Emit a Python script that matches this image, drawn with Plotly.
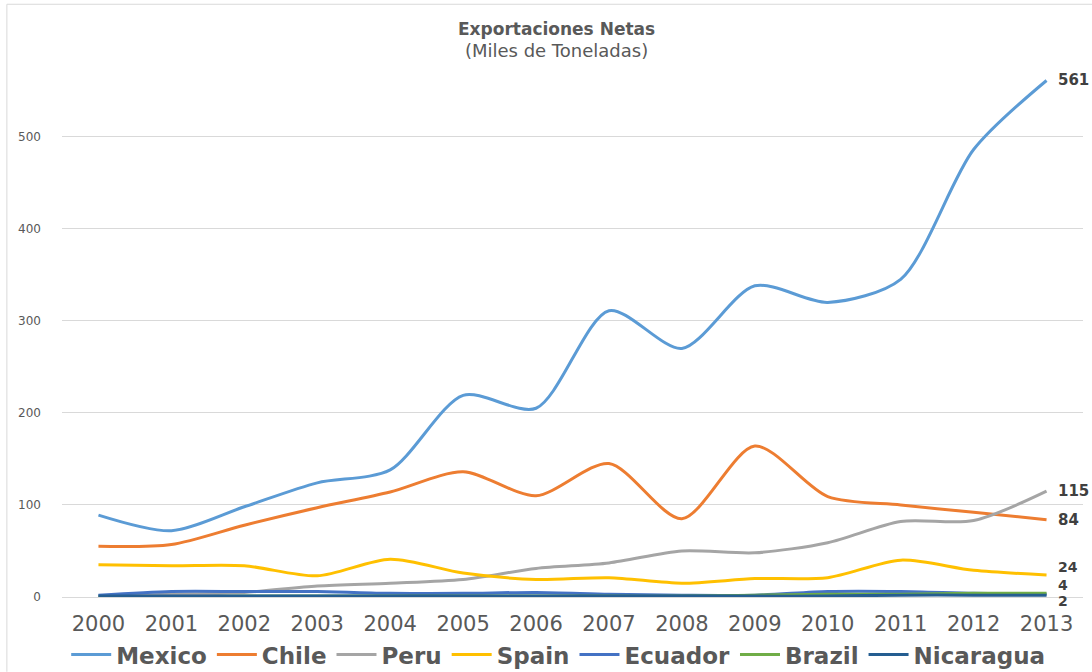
import plotly.graph_objects as go

years = [str(y) for y in range(2000, 2014)]
mexico = [89, 72, 98, 124, 138, 219, 205, 311, 270, 338, 320, 345, 486, 561]
chile = [55, 57, 78, 97, 114, 136, 110, 145, 85, 164, 109, 100, 92, 84]
peru = [1, 3, 5, 12, 15, 19, 31, 37, 50, 48, 59, 82, 83, 115]
spain = [35, 34, 34, 23, 41, 26, 19, 21, 15, 20, 21, 40, 29, 24]
ecuador = [2, 6, 6, 6, 4, 4, 5, 3, 2, 2, 6, 6, 4, 3]
brazil = [0, 0, 1, 1, 1, 1, 1, 1, 1, 2, 3, 3, 4, 4]
nicaragua = [1, 1, 1, 1, 1, 1, 1, 1, 1, 1, 1, 2, 2, 2]

series = [
    ("Mexico", mexico, "#5B9BD5"),
    ("Chile", chile, "#ED7D31"),
    ("Peru", peru, "#A5A5A5"),
    ("Spain", spain, "#FFC000"),
    ("Ecuador", ecuador, "#4472C4"),
    ("Brazil", brazil, "#70AD47"),
    ("Nicaragua", nicaragua, "#255E91"),
]
# end labels: series name -> vertical shift (px) to avoid collisions
end_labels = {"Mexico": 0, "Chile": 0, "Peru": 0, "Spain": 8, "Brazil": 8, "Nicaragua": -6}

FONT = "DejaVu Sans"
fig = go.Figure()
for name, vals, col in series:
    fig.add_trace(go.Scatter(
        x=years, y=vals, name=name, mode="lines",
        line=dict(color=col, width=3, shape="spline", smoothing=0.8),
        cliponaxis=False, hoverinfo="skip",
    ))

annotations = []
last_idx = len(years) - 1  # category index of last year
for name, vals, col in series:
    if name in end_labels:
        big = vals[-1] >= 50
        annotations.append(dict(
            x=last_idx, y=vals[-1], xref="x", yref="y", text=f"<b>{vals[-1]}</b>",
            showarrow=False, xanchor="left", yanchor="middle", xshift=10,
            yshift=end_labels[name], borderpad=0,
            font=dict(family=FONT, size=15 if big else 14, color="#404040"),
        ))
annotations.append(dict(
    x=0.484, y=1.044, xref="paper", yref="paper", showarrow=False,
    text="<b>Exportaciones Netas</b><br><span style='font-size:18px'>(Miles de Toneladas)</span>",
    font=dict(family=FONT, size=17, color="#595959"), xanchor="center", yanchor="middle",
))

fig.update_layout(
    width=1092, height=672,
    margin=dict(l=62, r=9, t=63, b=75, autoexpand=False),
    paper_bgcolor="white", plot_bgcolor="white",
    font=dict(family=FONT, color="#595959"),
    showlegend=True,
    legend=dict(orientation="h", x=0.486, xanchor="center", y=-0.108, yanchor="middle",
                font=dict(family=FONT, size=23, color="#595959", weight="bold"),
                itemwidth=40, tracegroupgap=0),
    annotations=annotations,
    shapes=[
        dict(type="line", xref="paper", yref="paper", x0=-0.054, x1=1.01, y0=1.11, y1=1.11,
             line=dict(color="#D9D9D9", width=1)),
        dict(type="line", xref="paper", yref="paper", x0=-0.054, x1=-0.054, y0=-0.14, y1=1.11,
             line=dict(color="#D9D9D9", width=1)),
    ],
)
fig.update_xaxes(type="category", range=[-0.5, 13.5], showgrid=False, showline=True,
                 linecolor="#D9D9D9", linewidth=1, ticks="", automargin=False,
                 ticklabelstandoff=8,
                 tickfont=dict(family=FONT, size=21, color="#595959"))
fig.update_yaxes(range=[0, 580], tickvals=[0, 100, 200, 300, 400, 500], showgrid=True,
                 gridcolor="#D9D9D9", gridwidth=1, zeroline=False, showline=False,
                 ticklabelstandoff=20, automargin=False,
                 tickfont=dict(family=FONT, size=12, color="#595959"))

fig.write_html("out.html", config={"displayModeBar": False},
               post_script="document.body.style.margin='0';")
